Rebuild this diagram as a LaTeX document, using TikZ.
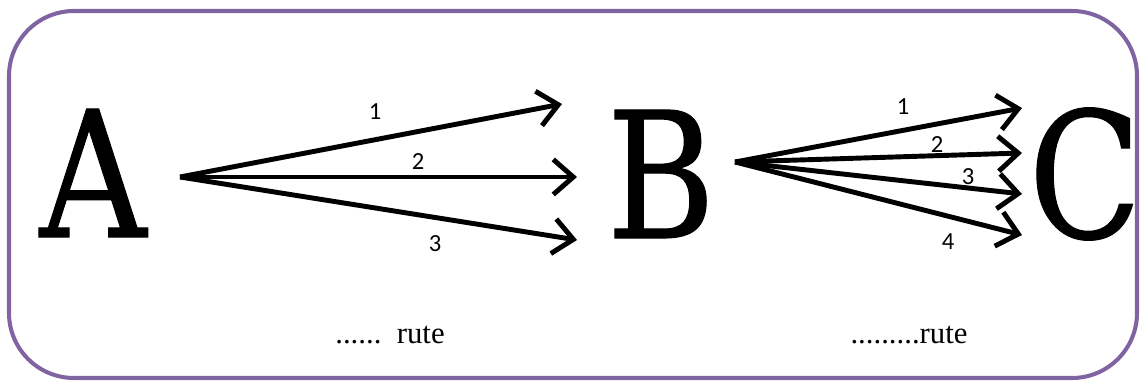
\documentclass[tikz,border=0pt]{standalone}
\usepackage{fontspec}
\setmainfont{Liberation Serif}
\newfontfamily\letterfont[FakeStretch=0.84,FakeBold=0.6]{DejaVu Serif}
\newfontfamily\numfont{Carlito}
\usetikzlibrary{arrows.meta}
\definecolor{framepurple}{HTML}{8064A2}

\begin{document}
\begin{tikzpicture}[x=0.02cm, y=-0.02cm, >={Straight Barb[length=4mm,width=7mm]},
	route/.style={->, line width=2.8pt},
	letter/.style={font=\letterfont\fontsize{100}{100}\selectfont, inner sep=0pt},
	num/.style={font=\numfont\fontsize{14}{14}\selectfont, inner sep=0pt},
	caption/.style={font=\fontsize{17.5}{17.5}\selectfont, inner sep=0pt}]
	\useasboundingbox (0,0) rectangle (1140,381);
	\draw[framepurple, line width=2.3pt, rounded corners=1.3cm] (9,11) rectangle (1137,378);
	% the three places
	\node[letter] (A) at (93,173) {A};
	\node[letter] (B) at (661,174) {B};
	\node[letter] (C) at (1085,174) {C};
	% from A to B
	\coordinate (a0) at (180,177);
	\coordinate (ab1) at (562,104);
	\coordinate (ab2) at (577,177);
	\coordinate (ab3) at (577,240);
	\draw[route] (a0) -- (ab1);
	\draw[route] (a0) -- (ab2);
	\draw[route] (a0) -- (ab3);
	\node[num] (m1) at (375,112) {1};
	\node[num] (m2) at (418,162) {2};
	\node[num] (m3) at (435,244) {3};
	% from B to C
	\coordinate (b0) at (735,162);
	\coordinate (bc1) at (1022,108);
	\coordinate (bc2) at (1022,153);
	\coordinate (bc3) at (1022,194);
	\coordinate (bc4) at (1022,235);
	\foreach \i in {1,...,4}
		\draw[route] (b0) -- (bc\i);
	\node[num] (k1) at (903,107) {1};
	\node[num] (k2) at (937,145) {2};
	\node[num] (k3) at (968,177) {3};
	\node[num] (k4) at (948,242) {4};
	% counts below
	\node[caption] (r1) at (390,335) {......\ \ rute};
	\node[caption] (r2) at (909,335) {.........rute};
\end{tikzpicture}
\end{document}
